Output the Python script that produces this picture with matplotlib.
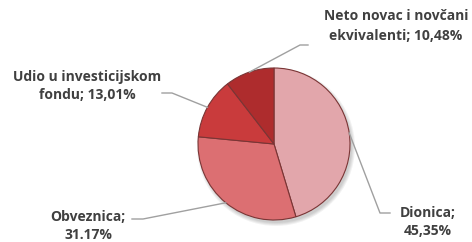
import numpy as np
import matplotlib
matplotlib.use("Agg")
import matplotlib.pyplot as plt

categories = ["Dionica", "Obveznica", "Udio u investicijskom fondu", "Neto novac i novčani ekvivalenti"]
values = [45.35, 31.17, 13.01, 10.48]
labels = ["Dionica;\n45,35%", "Obveznica;\n31.17%", "Udio u investicijskom\nfondu; 13,01%",
          "Neto novac i novčani\nekvivalenti; 10,48%"]
colors = ["#E2A6AB", "#DC6F72", "#C93B3C", "#AE2C2D"]

W, H = 472, 242
fig = plt.figure(figsize=(W / 100, H / 100), dpi=100)
ax = fig.add_axes([0, 0, 1, 1])

cx, cy, r = 274, H - 144, 76

# soft shadow
for k in range(4):
    sh = plt.Circle((cx + 2, cy - 3), r + 3 - k, color="#000000", alpha=0.05, zorder=0, lw=0)
    ax.add_patch(sh)

wedges, _ = ax.pie(values, colors=colors, startangle=90, counterclock=False,
                   center=(cx, cy), radius=r, frame=True,
                   wedgeprops=dict(edgecolor="#7A3535", linewidth=0.8))
ax.set_xlim(0, W)
ax.set_ylim(0, H)
ax.set_aspect("equal")
ax.axis("off")

# label layout: (elbow x, elbow y, end x, text x, text y, linespacing) in pixels
layout = [
    (380, 213, 390, 428, 222, 1.3),
    (143, 219, 132, 88, 226, 1.45),
    (172, 93, 162, 87, 86, 1.45),
    (300, 45, 308, 396, 26, 1.5),
]

for w, lab, (ex, ey, hx, tx, ty, ls) in zip(wedges, labels, layout):
    ang = np.deg2rad((w.theta1 + w.theta2) / 2)
    sx = cx + r * np.cos(ang)
    sy = cy + r * np.sin(ang)
    ax.plot([sx, ex, hx], [sy, H - ey, H - ey], color="#A0A0A0", lw=1.0, zorder=1)
    ax.text(tx, H - ty, lab, ha="center", va="center", fontsize=10,
            fontweight="bold", family=["Open Sans", "DejaVu Sans"], color="#404040",
            linespacing=ls)

fig.savefig("out.png", dpi=100)
